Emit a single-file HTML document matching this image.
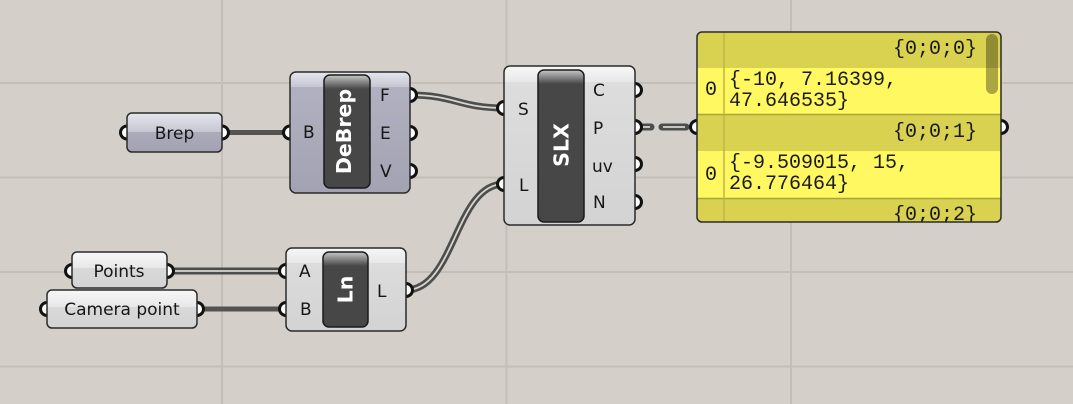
<!DOCTYPE html>
<html><head><meta charset="utf-8"><style>
html,body{margin:0;padding:0;background:#d4d0c9;}
svg{display:block;}
.s{font-family:"DejaVu Sans","Liberation Sans",sans-serif;font-size:17px;fill:#161616;}
.b{font-family:"DejaVu Sans","Liberation Sans",sans-serif;font-size:20.5px;font-weight:bold;fill:#ffffff;}
.m{font-family:"Liberation Mono","DejaVu Sans Mono",monospace;font-size:20px;fill:#1a1a1a;}
</style></head><body>
<svg width="1073" height="404" viewBox="0 0 1073 404" xmlns="http://www.w3.org/2000/svg">
<defs>
<linearGradient id="pB" x1="0" y1="0" x2="0" y2="1"><stop offset="0" stop-color="#b3b3c2"/><stop offset="1" stop-color="#a2a2b2"/></linearGradient>
<linearGradient id="pH" x1="0" y1="0" x2="0" y2="1"><stop offset="0" stop-color="#e6e6ee"/><stop offset="1" stop-color="#c6c6d2"/></linearGradient>
<linearGradient id="wB" x1="0" y1="0" x2="0" y2="1"><stop offset="0" stop-color="#dedede"/><stop offset="1" stop-color="#d3d3d3"/></linearGradient>
<linearGradient id="wH" x1="0" y1="0" x2="0" y2="1"><stop offset="0" stop-color="#f7f7f7"/><stop offset="1" stop-color="#e8e8e8"/></linearGradient>
<linearGradient id="cH" x1="0" y1="0" x2="0" y2="1"><stop offset="0" stop-color="#c8c8c8"/><stop offset="1" stop-color="#474747"/></linearGradient>
<clipPath id="k1"><rect x="127" y="113" width="95" height="39" rx="5"/></clipPath>
<clipPath id="k2"><rect x="290" y="72" width="120" height="121" rx="6"/></clipPath>
<clipPath id="k3"><rect x="504" y="66" width="131" height="159" rx="6"/></clipPath>
<clipPath id="k4"><rect x="286" y="248" width="120" height="83" rx="6"/></clipPath>
<clipPath id="k5"><rect x="72" y="252" width="95" height="36" rx="5"/></clipPath>
<clipPath id="k6"><rect x="47" y="290" width="150" height="38" rx="5"/></clipPath>
<clipPath id="q1"><rect x="324" y="75" width="46" height="113" rx="6"/></clipPath>
<clipPath id="q2"><rect x="538" y="70" width="46" height="152" rx="6"/></clipPath>
<clipPath id="q3"><rect x="323" y="252" width="45" height="75" rx="6"/></clipPath>
<clipPath id="pc"><rect x="697" y="32" width="304" height="190" rx="5"/></clipPath>
</defs>

<rect width="1073" height="404" fill="#d4d0c9"/>
<g stroke="#c3bfb7" stroke-width="2">
<line x1="222" y1="0" x2="222" y2="404"/>
<line x1="506.5" y1="0" x2="506.5" y2="404"/>
<line x1="791" y1="0" x2="791" y2="404"/>
<line x1="0" y1="83" x2="1073" y2="83"/>
<line x1="0" y1="177.5" x2="1073" y2="177.5"/>
<line x1="0" y1="272" x2="1073" y2="272"/>
<line x1="0" y1="366.5" x2="1073" y2="366.5"/>
</g>

<!-- wires -->
<g fill="none">
<path d="M222,132.5 L290,132.5" stroke="#535351" stroke-width="5"/>
<path d="M197,309 L286,309" stroke="#535351" stroke-width="5"/>
<path d="M167,271 L286,271" stroke="#4d4d4b" stroke-width="7"/>
<path d="M167,271 L286,271" stroke="#d8d5ce" stroke-width="1.8"/>
<path d="M410,95 C455,95 459,108 504,108" stroke="#4d4d4b" stroke-width="7"/>
<path d="M410,95 C455,95 459,108 504,108" stroke="#d8d5ce" stroke-width="1.8"/>
<path d="M406,290 C455,290 455,184 504,184" stroke="#4d4d4b" stroke-width="7"/>
<path d="M406,290 C455,290 455,184 504,184" stroke="#d8d5ce" stroke-width="1.8"/>
<path d="M640,127 L651,127 M662,127 L686,127" stroke="#4d4d4b" stroke-width="7" stroke-linecap="round"/>
<path d="M641,127 L650,127 M663,127 L685,127" stroke="#d8d5ce" stroke-width="1.8"/>
</g>

<!-- grips -->
<g fill="#ffffff" stroke="#111111" stroke-width="3">
<circle cx="127" cy="132.5" r="6.5"/><circle cx="222" cy="132.5" r="6.5"/>
<circle cx="290" cy="132.5" r="6.5"/><circle cx="410" cy="95" r="6.5"/><circle cx="410" cy="133" r="6.5"/><circle cx="410" cy="171" r="6.5"/>
<circle cx="504" cy="108" r="6.5"/><circle cx="504" cy="184" r="6.5"/>
<circle cx="635" cy="90" r="6.5"/><circle cx="635" cy="127" r="6.5"/><circle cx="635" cy="164" r="6.5"/><circle cx="635" cy="202" r="6.5"/>
<circle cx="72" cy="271" r="6.5"/><circle cx="167" cy="271" r="6.5"/>
<circle cx="47" cy="309" r="6.5"/><circle cx="197" cy="309" r="6.5"/>
<circle cx="286" cy="271" r="6.5"/><circle cx="286" cy="309" r="6.5"/><circle cx="406" cy="290" r="6.5"/>
<circle cx="697" cy="127" r="6.5"/><circle cx="1001" cy="127" r="6.5"/>
</g>

<!-- Brep param -->
<g clip-path="url(#k1)"><rect x="127" y="113" width="95" height="39" fill="url(#pB)"/><rect x="127" y="113" width="95" height="19" fill="url(#pH)"/></g>
<rect x="127" y="113" width="95" height="39" rx="5" fill="none" stroke="#2a2a2a" stroke-width="1.5"/>
<text class="s" x="174.5" y="139" text-anchor="middle">Brep</text>

<!-- DeBrep -->
<g clip-path="url(#k2)"><rect x="290" y="72" width="120" height="121" fill="url(#pB)"/><rect x="290" y="72" width="120" height="15" fill="url(#pH)"/></g>
<rect x="290" y="72" width="120" height="121" rx="6" fill="none" stroke="#2a2a2a" stroke-width="1.5"/>
<g clip-path="url(#q1)"><rect x="324" y="75" width="46" height="113" fill="#474747"/><rect x="324" y="75" width="46" height="14" fill="url(#cH)"/></g>
<rect x="324" y="75" width="46" height="113" rx="6" fill="none" stroke="#1a1a1a" stroke-width="1.5"/>
<text class="b" transform="translate(351,131.5) rotate(-90)" text-anchor="middle">DeBrep</text>
<text class="s" x="303" y="138">B</text>
<text class="s" x="380" y="101">F</text>
<text class="s" x="380" y="139">E</text>
<text class="s" x="380" y="177">V</text>

<!-- SLX -->
<g clip-path="url(#k3)"><rect x="504" y="66" width="131" height="159" fill="url(#wB)"/><rect x="504" y="66" width="131" height="16" fill="url(#wH)"/></g>
<rect x="504" y="66" width="131" height="159" rx="6" fill="none" stroke="#2a2a2a" stroke-width="1.5"/>
<g clip-path="url(#q2)"><rect x="538" y="70" width="46" height="152" fill="#474747"/><rect x="538" y="70" width="46" height="14" fill="url(#cH)"/></g>
<rect x="538" y="70" width="46" height="152" rx="6" fill="none" stroke="#1a1a1a" stroke-width="1.5"/>
<text class="b" transform="translate(568.5,145) rotate(-90)" text-anchor="middle">SLX</text>
<text class="s" x="518" y="115">S</text>
<text class="s" x="519" y="191">L</text>
<text class="s" x="593" y="96">C</text>
<text class="s" x="593" y="134">P</text>
<text class="s" x="592" y="172">uv</text>
<text class="s" x="593" y="208">N</text>

<!-- Points -->
<g clip-path="url(#k5)"><rect x="72" y="252" width="95" height="36" fill="url(#wB)"/><rect x="72" y="252" width="95" height="16" fill="url(#wH)"/></g>
<rect x="72" y="252" width="95" height="36" rx="5" fill="none" stroke="#2a2a2a" stroke-width="1.5"/>
<text class="s" x="119" y="277" text-anchor="middle">Points</text>

<!-- Camera point -->
<g clip-path="url(#k6)"><rect x="47" y="290" width="150" height="38" fill="url(#wB)"/><rect x="47" y="290" width="150" height="17" fill="url(#wH)"/></g>
<rect x="47" y="290" width="150" height="38" rx="5" fill="none" stroke="#2a2a2a" stroke-width="1.5"/>
<text class="s" x="122" y="315" text-anchor="middle">Camera point</text>

<!-- Ln -->
<g clip-path="url(#k4)"><rect x="286" y="248" width="120" height="83" fill="url(#wB)"/><rect x="286" y="248" width="120" height="15" fill="url(#wH)"/></g>
<rect x="286" y="248" width="120" height="83" rx="6" fill="none" stroke="#2a2a2a" stroke-width="1.5"/>
<g clip-path="url(#q3)"><rect x="323" y="252" width="45" height="75" fill="#474747"/><rect x="323" y="252" width="45" height="14" fill="url(#cH)"/></g>
<rect x="323" y="252" width="45" height="75" rx="6" fill="none" stroke="#1a1a1a" stroke-width="1.5"/>
<text class="b" transform="translate(352.5,289.5) rotate(-90)" text-anchor="middle">Ln</text>
<text class="s" x="299" y="277">A</text>
<text class="s" x="300" y="315">B</text>
<text class="s" x="377" y="297">L</text>

<!-- Panel -->
<g clip-path="url(#pc)">
<rect x="697" y="32" width="304" height="190" fill="#d8d250"/>
<rect x="697" y="68" width="304" height="46" fill="#fff861"/>
<rect x="697" y="151" width="304" height="47" fill="#fff861"/>
<line x1="697" y1="114.5" x2="1001" y2="114.5" stroke="#aaa43c" stroke-width="1.5"/>
<line x1="697" y1="198.5" x2="1001" y2="198.5" stroke="#aaa43c" stroke-width="1.5"/>
<line x1="724" y1="32" x2="724" y2="222" stroke="#bdb646" stroke-width="1.5"/>
<rect x="986" y="34" width="12" height="60" rx="6" fill="#000" fill-opacity="0.33"/>
<text class="m" x="977" y="54" text-anchor="end">{0;0;0}</text>
<text class="m" x="705" y="95">0</text>
<text class="m" x="729" y="85">{-10, 7.16399,</text>
<text class="m" x="729" y="106">47.646535}</text>
<text class="m" x="977" y="137" text-anchor="end">{0;0;1}</text>
<text class="m" x="705" y="180">0</text>
<text class="m" x="729" y="168">{-9.509015, 15,</text>
<text class="m" x="729" y="189">26.776464}</text>
<text class="m" x="977" y="220" text-anchor="end">{0;0;2}</text>
</g>
<rect x="697" y="32" width="304" height="190" rx="5" fill="none" stroke="#2a2a2a" stroke-width="1.5"/>
</svg>
</body></html>
